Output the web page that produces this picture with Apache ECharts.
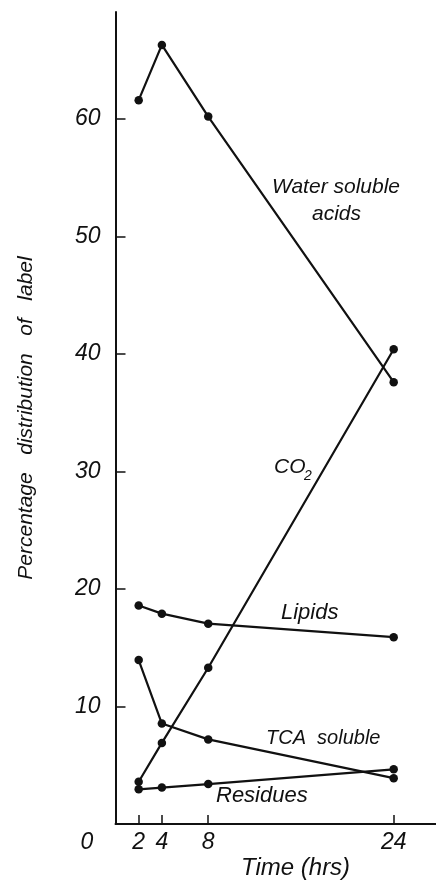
<!DOCTYPE html>
<html>
<head>
<meta charset="utf-8">
<script src="https://cdn.jsdelivr.net/npm/echarts@6/dist/echarts.min.js"></script>
<style>
  html, body { margin: 0; padding: 0; background: #fff; }
  #chart { width: 436px; height: 882px; }
</style>
</head>
<body>
<div id="chart"></div>
<script>
// Time points (hours) and percentage distribution of label per fraction
const hours = [2, 4, 8, 24];
const waterSolubleAcids = [61.6, 66.3, 60.2, 37.6];
const co2 = [3.6, 6.9, 13.3, 40.4];
const lipids = [18.6, 17.9, 17.05, 15.9];
const tcaSoluble = [13.95, 8.55, 7.2, 3.9];
const residues = [2.95, 3.1, 3.4, 4.65];

const xTickValues = [2, 4, 8, 24];
const yTickValues = [10, 20, 30, 40, 50, 60];

const FONT = '"Liberation Sans", "DejaVu Sans", sans-serif';
const INK = '#111';

function pairs(ys) {
  return hours.map((h, i) => [h, ys[i]]);
}

function lineSeries(name, ys) {
  return {
    name: name,
    type: 'line',
    data: pairs(ys),
    symbol: 'circle',
    symbolSize: 8.5,
    showSymbol: true,
    lineStyle: { color: INK, width: 2.2 },
    itemStyle: { color: INK },
    animation: false,
    z: 3
  };
}

// free-standing italic caption
function txt(text, x, y, size, align) {
  return {
    type: 'text',
    x: x,
    y: y,
    z: 10,
    style: {
      text: text,
      fill: INK,
      fontFamily: FONT,
      fontStyle: 'italic',
      fontSize: size,
      align: align || 'left',
      verticalAlign: 'middle'
    }
  };
}

const chart = echarts.init(document.getElementById('chart'), null, { renderer: 'canvas' });

chart.setOption({
  backgroundColor: '#fff',
  animation: false,
  grid: { left: 115.5, right: 0, top: 12, bottom: 58, containLabel: false, outerBoundsMode: 'none' },
  xAxis: {
    type: 'value',
    min: 0,
    max: 27.65,
    axisLine: { show: true, onZero: false, lineStyle: { color: INK, width: 2 } },
    axisTick: {
      show: true, inside: true, length: 9,
      customValues: xTickValues,
      lineStyle: { color: INK, width: 1.5 }
    },
    axisLabel: {
      customValues: xTickValues,
      margin: 7,
      color: INK,
      fontFamily: FONT,
      fontStyle: 'italic',
      fontSize: 23
    },
    splitLine: { show: false }
  },
  yAxis: {
    type: 'value',
    min: 0,
    max: 69.1,
    interval: 10,
    name: 'Percentage   distribution   of   label',
    nameLocation: 'middle',
    nameRotate: 90,
    nameGap: 79,
    nameTextStyle: {
      color: INK,
      fontFamily: FONT,
      fontStyle: 'italic',
      fontSize: 21
    },
    axisLine: { show: true, lineStyle: { color: INK, width: 2 } },
    axisTick: {
      show: true, inside: true, length: 10,
      customValues: yTickValues,
      lineStyle: { color: INK, width: 1.5 }
    },
    axisLabel: {
      customValues: yTickValues,
      margin: 15,
      color: INK,
      fontFamily: FONT,
      fontStyle: 'italic',
      fontSize: 23
    },
    splitLine: { show: false }
  },
  series: [
    lineSeries('Water soluble acids', waterSolubleAcids),
    lineSeries('CO2', co2),
    lineSeries('Lipids', lipids),
    lineSeries('TCA soluble', tcaSoluble),
    lineSeries('Residues', residues)
  ],
  graphic: [
    txt('Water soluble', 272, 187, 21),
    txt('acids', 312, 214, 21),
    txt('CO', 274, 467, 21),
    txt('2', 304, 476, 14),
    txt('Lipids', 281, 613, 22),
    txt('TCA  soluble', 266, 738, 20),
    txt('Residues', 216, 796, 22),
    txt('Time (hrs)', 241, 868, 24),
    txt('0', 87, 843, 23, 'center')
  ]
});
</script>
</body>
</html>
